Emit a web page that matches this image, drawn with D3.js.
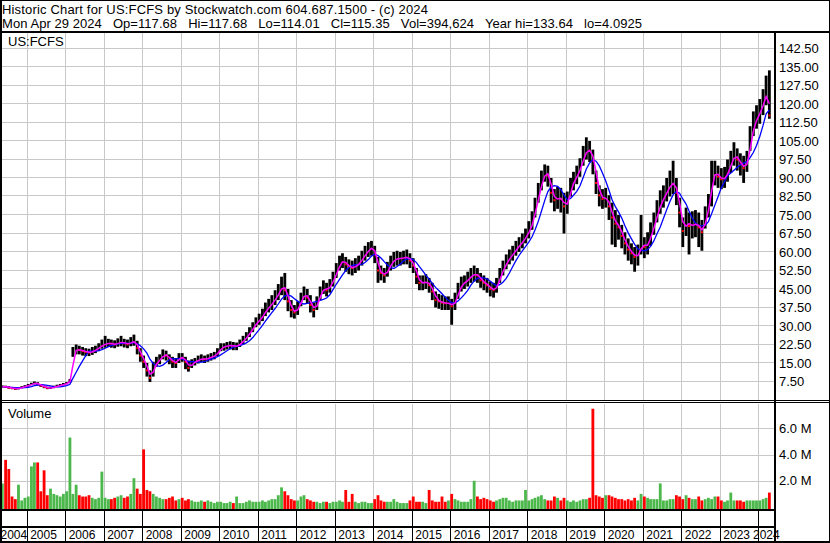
<!DOCTYPE html>
<html>
<head>
<meta charset="utf-8">
<script src="https://cdn.jsdelivr.net/npm/d3@7"></script>
<style>
  body { margin: 0; background: #fff; }
  svg { display: block; font-family: "Liberation Sans", Arial, sans-serif; }
</style>
</head>
<body>
<svg id="chart" width="830" height="543"></svg>
<script>
// monthly bars, May 2004 .. Apr 2024
const firstMonth = [2004, 4]

const closes = [
  5.4,5.3,5.0,4.8,4.6,4.8,5.2,5.5,
  6.0,6.5,6.8,6.5,5.8,5.3,4.9,4.9,5.3,5.7,6.0,6.4,
  6.8,8.0,19.8,20.5,20.3,19.8,19.5,19.2,19.8,20.5,21.3,22.3,
  22.8,23.0,22.8,22.5,23.2,23.5,23.0,22.6,23.5,23.8,21.0,18.0,
  15.5,12.0,9.0,13.5,15.5,16.5,18.5,18.0,16.5,15.5,15.0,17.5,
  17.0,15.5,13.0,15.0,15.5,16.3,16.8,16.5,17.0,17.5,18.0,19.5,
  21.3,21.6,22.0,22.2,21.8,21.8,23.0,24.3,25.8,27.5,29.5,31.5,
  32.5,34.5,36.5,38.0,39.5,41.5,43.5,46.5,44.5,40.0,36.5,35.5,
  37.5,41.0,43.0,41.5,38.5,36.5,39.5,43.5,45.5,44.5,46.5,49.0,
  52.5,55.5,56.5,55.0,54.0,53.5,54.5,55.5,57.5,59.5,61.0,62.0,
  59.0,52.5,51.5,50.5,53.0,55.5,57.0,57.4,57.4,57.8,58.0,56.5,
  54.5,50.0,47.5,47.5,48.0,46.5,44.0,40.5,40.0,39.5,39.2,39.2,
  38.0,40.5,44.5,47.0,47.8,49.0,50.5,51.0,50.5,48.5,47.5,46.5,
  45.0,44.5,46.5,50.5,53.5,56.0,58.0,59.5,61.5,63.0,64.5,66.5,
  69.0,72.5,78.0,84.0,89.0,92.5,91.0,84.0,81.0,82.0,81.5,78.5,
  80.5,86.5,89.0,91.5,94.5,99.0,101.5,101.0,97.0,88.0,83.0,81.5,
  82.0,78.5,74.0,71.5,70.0,66.5,63.5,61.0,59.5,58.0,59.0,63.5,
  62.0,63.5,67.5,71.5,76.5,80.0,82.5,85.0,87.5,88.0,84.0,76.0,
  68.5,72.5,70.5,71.0,71.5,70.0,68.0,74.5,79.0,90.0,92.5,90.5,
  89.5,90.0,93.0,96.5,99.5,97.5,95.5,94.0,97.0,106.0,112.0,114.5,
  117.5,121.0,125.0,115.35
]

const highs = [
  5.9,5.8,5.5,5.2,5.0,5.2,5.6,6.0,
  6.5,7.0,7.5,7.2,6.5,5.8,5.4,5.4,5.8,6.2,6.5,6.9,
  7.3,8.5,21.5,22.5,22.0,21.5,21.0,20.8,21.5,22.0,23.0,24.5,
  26.0,24.8,24.5,24.2,25.0,26.0,24.8,24.5,25.5,26.5,24.0,21.0,
  18.0,15.0,12.0,15.5,17.5,18.5,20.5,20.0,18.5,17.5,17.0,19.0,
  19.0,17.5,16.0,16.5,17.0,18.0,18.5,18.0,18.5,19.0,19.5,21.0,
  23.0,23.0,23.5,23.8,23.5,23.3,24.5,26.0,27.5,29.5,31.5,33.5,
  35.0,37.0,39.5,41.0,42.5,44.5,47.0,50.0,51.5,45.0,40.5,38.5,
  40.0,43.5,46.0,45.0,42.5,39.5,42.0,46.0,48.5,47.5,49.0,52.0,
  55.5,58.5,59.5,58.0,57.0,56.5,57.5,58.5,60.5,62.5,64.0,64.5,
  62.5,58.0,54.5,53.5,56.0,58.5,60.0,60.5,60.0,60.5,61.0,59.5,
  57.5,53.5,50.5,50.5,51.0,49.5,47.5,44.0,43.0,42.5,42.0,42.0,
  41.0,43.5,47.5,50.0,50.5,52.0,53.5,54.5,53.5,51.5,50.5,49.5,
  48.0,47.5,49.5,53.5,56.5,59.0,61.0,62.5,64.5,66.0,67.5,69.5,
  72.5,76.5,82.0,88.0,93.0,95.5,95.0,90.0,85.5,86.5,86.0,84.0,
  84.5,90.0,92.5,95.0,98.0,103.0,106.5,105.0,101.5,93.0,87.0,85.5,
  86.0,83.0,80.0,77.0,75.0,71.0,68.0,65.5,63.5,62.0,63.0,75.0,
  66.0,68.0,72.0,76.0,81.0,85.0,87.0,90.0,93.0,97.0,90.0,82.0,
  74.0,78.0,76.0,76.5,77.0,76.0,73.0,78.5,83.5,97.0,97.0,95.0,
  94.0,94.5,97.5,101.0,104.5,102.0,100.0,99.0,101.0,111.0,117.0,119.5,
  122.0,126.0,131.5,133.64
]

const lows = [
  5.0,4.9,4.6,4.4,4.09,4.3,4.8,5.0,
  5.4,6.0,6.3,5.9,5.3,4.8,4.4,4.5,4.8,5.2,5.6,5.9,
  6.4,6.9,17.5,18.5,18.5,18.0,17.8,17.8,18.3,19.0,19.8,20.8,
  21.2,21.5,21.2,21.0,21.6,21.8,21.3,21.0,21.8,22.0,18.5,15.5,
  13.0,9.5,7.3,9.5,13.5,14.5,16.5,16.0,14.5,13.0,13.0,15.0,
  15.5,12.5,11.5,13.0,14.0,14.8,15.3,15.0,15.5,16.0,16.5,17.8,
  19.8,20.0,20.5,20.5,20.2,20.2,21.5,22.5,24.0,25.5,27.5,29.5,
  30.5,32.0,34.0,35.5,36.5,38.5,40.5,42.5,40.5,36.0,33.5,33.0,
  34.5,38.0,40.5,39.0,35.5,33.5,36.5,40.5,43.0,42.0,43.5,46.0,
  49.5,52.5,53.5,52.0,51.0,50.5,51.5,52.5,54.5,56.5,58.0,58.5,
  55.5,47.5,48.5,47.5,50.0,52.5,54.0,54.5,54.5,55.0,55.0,53.5,
  51.5,47.0,44.5,44.5,45.0,43.5,40.5,37.5,37.0,36.5,36.5,36.5,
  30.5,36.5,41.0,44.0,45.0,46.0,47.5,48.0,47.5,45.5,44.5,43.5,
  42.0,41.5,43.5,47.5,50.5,53.0,55.0,56.5,58.5,60.0,61.5,63.5,
  65.5,69.0,74.0,80.0,85.0,88.5,86.5,80.0,76.5,77.5,76.0,67.5,
  75.5,82.5,85.0,87.5,90.5,95.0,97.5,96.5,91.5,83.5,78.5,77.5,
  78.0,73.0,63.0,62.0,65.0,61.5,59.0,56.5,55.0,52.0,54.5,59.0,
  57.5,59.0,62.5,67.0,72.0,75.5,78.0,80.5,82.5,83.5,79.0,70.0,
  62.0,66.5,59.0,65.5,66.0,62.0,60.5,69.5,74.0,78.5,87.0,86.0,
  85.5,86.0,88.5,92.0,95.0,93.0,91.0,88.0,92.5,101.0,107.0,110.0,
  112.0,115.5,119.5,114.01
]

// volume, millions of shares
const volumes = [
  1.8,3.6,2.9,0.8,0.6,1.7,0.5,0.7,
  0.8,3.1,3.4,3.4,1.2,2.8,0.9,1.4,1.0,0.9,0.8,1.0,
  1.2,5.3,1.0,1.7,0.9,0.8,0.8,0.9,0.7,0.6,0.7,2.7,
  0.7,0.6,0.6,0.7,0.8,0.9,0.7,0.8,1.0,2.2,1.4,1.0,
  4.4,1.3,1.2,1.0,0.8,0.7,0.6,0.6,0.7,0.8,0.5,0.6,
  0.7,0.5,0.6,0.5,0.4,0.4,0.5,0.4,0.5,0.4,0.3,0.4,
  0.4,0.3,0.3,0.4,0.3,0.8,0.3,0.3,0.4,0.5,0.4,0.4,
  0.4,0.5,0.4,0.5,0.6,0.6,0.9,1.5,1.2,0.9,0.6,0.5,
  0.5,0.8,0.9,0.6,0.5,0.4,0.4,0.3,0.4,0.4,0.3,0.4,
  0.4,0.5,0.4,1.3,0.4,1.0,0.4,0.3,0.4,0.4,0.3,0.3,
  0.6,0.9,0.5,0.4,0.4,0.4,0.6,0.4,0.3,0.3,0.3,0.5,
  0.8,0.4,0.4,0.4,0.3,1.3,0.5,0.4,0.4,0.8,0.4,0.5,
  1.0,0.6,0.5,0.4,0.4,0.4,0.6,2.0,0.8,0.6,0.7,0.6,
  0.5,0.4,0.5,0.6,0.7,0.7,0.5,0.4,0.5,0.5,0.5,1.3,
  0.5,0.6,0.7,0.8,0.9,0.6,0.5,0.5,0.8,0.7,0.5,0.7,
  0.5,0.4,0.5,0.4,0.5,0.6,0.6,0.7,7.5,0.9,0.8,0.7,
  0.9,0.9,0.8,0.7,0.6,0.6,0.5,0.6,0.5,0.7,0.5,1.0,
  0.8,0.7,0.6,0.6,0.6,1.8,0.5,0.5,0.6,0.6,0.9,0.8,
  0.6,0.9,0.7,0.6,0.6,0.8,0.5,0.6,0.7,0.6,0.8,0.8,
  0.5,0.4,0.5,1.1,0.5,0.5,0.5,0.4,0.5,0.5,0.5,0.5,
  0.5,0.6,0.7,1.1
]

const priceTicks = d3.range(7.5, 143, 7.5)
const volumeTicks = [2, 4, 6]
const years = d3.range(2004, 2025)
const headerLines = [
  "Historic Chart for US:FCFS by Stockwatch.com 604.687.1500 - (c) 2024",
  "Mon Apr 29 2024   Op=117.68   Hi=117.68   Lo=114.01   Cl=115.35   Vol=394,624   Year hi=133.64   lo=4.0925"
]
const headerWidths = [426, 640]

const bars = closes.map((c, i) => ({
  date: new Date(firstMonth[0], firstMonth[1] + i, 15),
  close: c, high: highs[i], low: lows[i], vol: volumes[i],
  up: i == 0 || c >= closes[i - 1]
}))

const movingAvg = n => closes.map((c, i) => d3.mean(closes.slice(Math.max(0, i - n + 1), i + 1)))
const fast = movingAvg(2)
const slow = movingAvg(6)

const W = 830, H = 543
const plotRight = 773.5

const x = d3.scaleTime()
  .domain([new Date(2005, 0, 1), new Date(2024, 0, 1)])
  .range([26.7, 758.3])
const y = d3.scaleLinear().domain([0, 150]).range([400, 30])
const yVol = d3.scaleLinear().domain([0, 8]).range([507, 402.2])

const svg = d3.select("#chart")
const boundaries = years.slice(1).map(yr => new Date(yr, 0, 1))
const step = x(new Date(2010, 1, 1)) - x(new Date(2010, 0, 1))
const bw = step - 0.45

svg.append("defs").append("clipPath").attr("id", "plotClip")
  .append("rect").attr("x", 2).attr("y", 33).attr("width", plotRight - 2).attr("height", 367)

// grid
const grid = svg.append("g").attr("stroke", "#c8c8c8").attr("shape-rendering", "crispEdges")
grid.selectAll(".hgrid").data(priceTicks).enter().append("line")
  .attr("x1", 2).attr("x2", plotRight)
  .attr("y1", d => Math.round(y(d)) - 0.5).attr("y2", d => Math.round(y(d)) - 0.5)
grid.selectAll(".vgrid").data(volumeTicks).enter().append("line")
  .attr("x1", 2).attr("x2", plotRight)
  .attr("y1", d => Math.round(yVol(d)) + 0.5).attr("y2", d => Math.round(yVol(d)) + 0.5)
grid.selectAll(".xgrid").data(boundaries).enter().append("line")
  .attr("x1", d => Math.round(x(d)) + 0.5).attr("x2", d => Math.round(x(d)) + 0.5)
  .attr("y1", 33).attr("y2", 400)
grid.selectAll(".xgrid2").data(boundaries).enter().append("line")
  .attr("x1", d => Math.round(x(d)) + 0.5).attr("x2", d => Math.round(x(d)) + 0.5)
  .attr("y1", 404).attr("y2", 509)

// price bars
const plot = svg.append("g").attr("clip-path", "url(#plotClip)")
plot.selectAll(".bar").data(bars).enter().append("rect")
  .attr("x", d => x(d.date) - bw / 2).attr("width", bw)
  .attr("y", d => y(d.high)).attr("height", d => y(d.low) - y(d.high))
  .attr("fill", "#000")
plot.selectAll(".cl").data(bars.filter(d => !d.up)).enter().append("rect")
  .attr("x", d => x(d.date) - 1).attr("width", 2)
  .attr("y", d => y(d.close) - 1).attr("height", 2)
  .attr("fill", "#ff0000")

const line = vals => d3.line().x((d, i) => x(bars[i].date)).y(d => y(d))(vals)
plot.append("path").attr("d", line(slow)).attr("fill", "none").attr("stroke", "#0000ff").attr("stroke-width", 1.3)
plot.append("path").attr("d", line(fast)).attr("fill", "none").attr("stroke", "#ff00ff").attr("stroke-width", 1.5)

// volume bars
svg.append("g").selectAll("rect").data(bars).enter().append("rect")
  .attr("x", d => x(d.date) - bw / 2).attr("width", bw)
  .attr("y", d => yVol(d.vol)).attr("height", d => 509.5 - yVol(d.vol))
  .attr("fill", d => d.up ? "#4cb84c" : "#ff0000")

// right axes
svg.append("g").attr("transform", "translate(775,0)")
  .call(d3.axisRight(y).tickValues(priceTicks).tickSize(0).tickPadding(4).tickFormat(d3.format(".2f")))
svg.append("g").attr("transform", "translate(775,0)")
  .call(d3.axisRight(yVol).tickValues(volumeTicks).tickSize(0).tickPadding(4).tickFormat(d => d.toFixed(1) + " M"))
svg.selectAll(".domain").remove()
svg.selectAll(".tick text").attr("font-size", 13).attr("fill", "#000")
  .attr("font-family", "'Liberation Sans', Arial, sans-serif")

// frame lines
const frame = svg.append("g").attr("stroke", "#000").attr("shape-rendering", "crispEdges")
const hline = (y0, x1, x2, w) => frame.append("line").attr("x1", x1).attr("x2", x2).attr("y1", y0).attr("y2", y0).attr("stroke-width", w)
const vline = (x0, y1, y2, w) => frame.append("line").attr("x1", x0).attr("x2", x0).attr("y1", y1).attr("y2", y2).attr("stroke-width", w)
hline(0.5, 0, W, 1)
hline(32, 0, W, 2)
hline(400.5, 0, W, 1)
hline(402.5, 0, W, 1)
hline(510, 0, plotRight, 2)
hline(527, 0, plotRight, 2)
hline(542, 0, W, 2)
vline(1, 0, H, 2)
vline(829.5, 0, H, 1)
vline(774.5, 32, H, 2)
frame.selectAll(".yt").data(boundaries).enter().append("line")
  .attr("x1", d => Math.round(x(d)) + 0.5).attr("x2", d => Math.round(x(d)) + 0.5)
  .attr("y1", 510).attr("y2", 542)

// text
const txt = svg.append("g").attr("font-size", 13).attr("fill", "#000")
txt.selectAll(".hdr").data(headerLines).enter().append("text")
  .attr("x", 2).attr("y", (d, i) => 14 + i * 13.5)
  .attr("xml:space", "preserve").style("white-space", "pre")
  .attr("textLength", (d, i) => headerWidths[i]).attr("lengthAdjust", "spacing")
  .text(d => d)
txt.append("text").attr("x", 8).attr("y", 46).text("US:FCFS")
txt.append("text").attr("x", 8).attr("y", 418).text("Volume")

svg.append("g").attr("font-size", 12)
  .selectAll("text").data(years).enter().append("text")
  .attr("x", yr => Math.min(Math.max(x(new Date(yr, 0, 1)) + 3.5, 0.5), 753))
  .attr("y", 539)
  .text(yr => yr)
</script>
</body>
</html>
